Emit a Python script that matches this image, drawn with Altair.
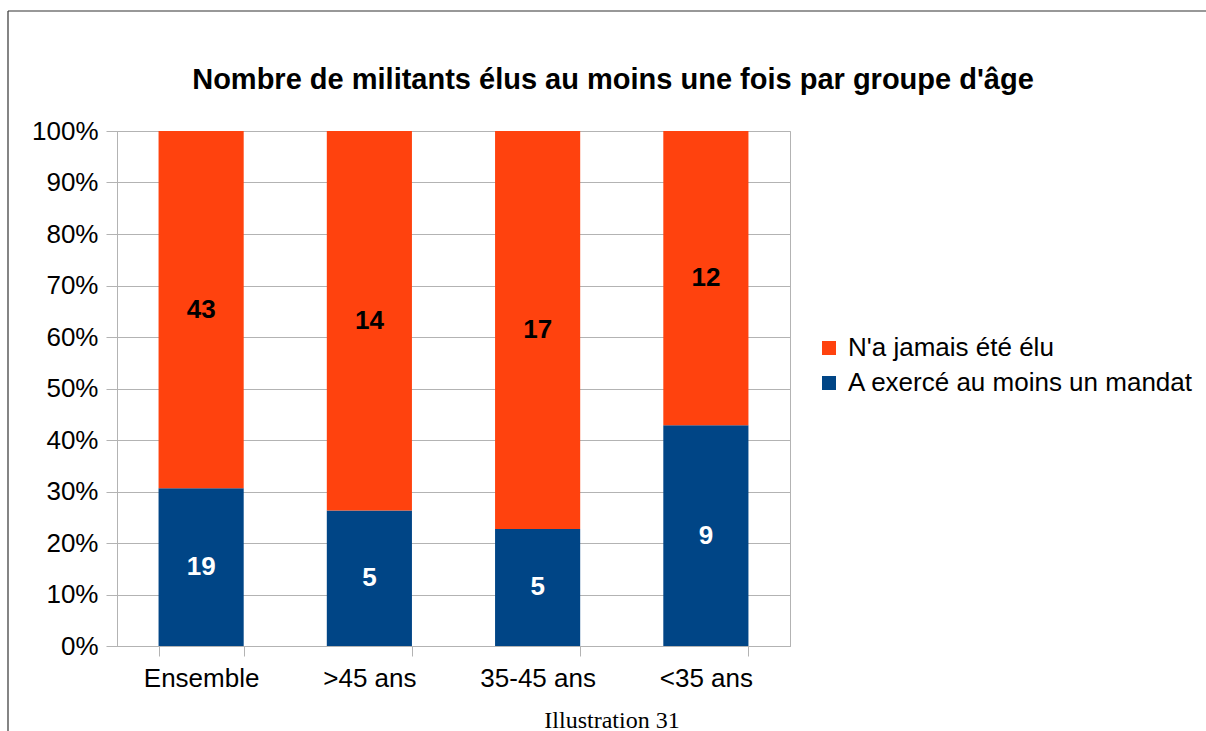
import altair as alt
import pandas as pd

# Counts of members per age group
groups = ["Ensemble", ">45 ans", "35-45 ans", "<35 ans"]
elected = [19, 5, 5, 9]          # A exercé au moins un mandat
never_elected = [43, 14, 17, 12]  # N'a jamais été élu

series_never = "N'a jamais été élu"
series_elected = "A exercé au moins un mandat"

title_text = "Nombre de militants élus au moins une fois par groupe d'âge"
caption_text = "Illustration 31"

rows = []
for g, e, n in zip(groups, elected, never_elected):
    total = e + n
    rows.append({"groupe": g, "serie": series_elected, "nombre": e,
                 "debut": 0.0, "fin": e / total})
    rows.append({"groupe": g, "serie": series_never, "nombre": n,
                 "debut": e / total, "fin": 1.0})
df = pd.DataFrame(rows)
df["milieu"] = (df["debut"] + df["fin"]) / 2

FONT = "Liberation Sans"
GRID = "#b3b3b3"
W, H = 673, 515
LEFT, TOP = 117, 131
FS = 26

x_enc = alt.X(
    "groupe:N",
    sort=groups,
    scale=alt.Scale(paddingInner=0.494, paddingOuter=0.247),
    axis=alt.Axis(
        title=None, labelAngle=0, grid=False, tickBand="extent",
        tickSize=10, tickColor=GRID, domainColor=GRID,
        labelFontSize=FS, labelFont=FONT, labelColor="black", labelPadding=9,
    ),
)

y_scale = alt.Scale(domain=[0, 1], nice=False)

base = alt.Chart(df)

bars = base.mark_bar().encode(
    x=x_enc,
    y=alt.Y(
        "debut:Q",
        scale=y_scale,
        axis=alt.Axis(
            title=None, format=".0%", values=[i / 10 for i in range(11)],
            grid=True, gridColor=GRID, tickSize=11, tickColor=GRID,
            domainColor=GRID, labelFontSize=FS, labelFont=FONT,
            labelColor="black", labelPadding=8,
        ),
    ),
    y2="fin:Q",
    color=alt.Color(
        "serie:N",
        scale=alt.Scale(domain=[series_never, series_elected],
                        range=["#ff420e", "#004586"]),
        legend=alt.Legend(
            title=None, orient="none", legendX=699, legendY=204,
            symbolType="square", symbolSize=196, symbolStrokeWidth=0,
            labelFontSize=FS, labelFont=FONT, labelColor="black",
            labelOffset=6, labelLimit=0, rowPadding=9, padding=0,
        ),
    ),
)

label_never = base.transform_filter(
    alt.datum.serie == series_never
).mark_text(font=FONT, fontSize=FS, fontWeight="bold", color="black",
            baseline="middle").encode(
    x=alt.X("groupe:N", sort=groups),
    y=alt.Y("milieu:Q", scale=y_scale),
    text="nombre:Q",
)

label_elected = base.transform_filter(
    alt.datum.serie == series_elected
).mark_text(font=FONT, fontSize=FS, fontWeight="bold", color="white",
            baseline="middle").encode(
    x=alt.X("groupe:N", sort=groups),
    y=alt.Y("milieu:Q", scale=y_scale),
    text="nombre:Q",
)

one = pd.DataFrame({"k": [0]})

# Outer frame around the figure (top and left edges)
frame_top = alt.Chart(one).mark_rule(color="#333333", strokeWidth=1.2).encode(
    x=alt.value(8 - LEFT), x2=alt.value(1206 - LEFT + 5), y=alt.value(11 - TOP)
)
frame_left = alt.Chart(one).mark_rule(color="#333333", strokeWidth=1.2).encode(
    x=alt.value(8 - LEFT), y=alt.value(11 - TOP), y2=alt.value(731 - TOP + 5)
)

# Chart heading, centred on the whole figure
heading = alt.Chart(one).mark_text(
    font=FONT, fontSize=29, fontWeight="bold", color="black",
    align="center", baseline="alphabetic",
).encode(
    x=alt.value(613 - LEFT), y=alt.value(89 - TOP),
    text=alt.value(title_text),
)

caption = alt.Chart(one).mark_text(
    font="Liberation Serif", fontSize=24, color="black",
    align="center", baseline="alphabetic",
).encode(
    x=alt.value(612 - LEFT), y=alt.value(728 - TOP),
    text=alt.value(caption_text),
)

chart = alt.layer(
    bars, label_never, label_elected, frame_top, frame_left, heading, caption
).properties(
    width=W, height=H,
    autosize=alt.AutoSizeParams(type="none"),
    padding={"left": LEFT, "top": TOP, "right": 1206 - LEFT - W,
             "bottom": 731 - TOP - H},
    background="white",
).configure_view(stroke=GRID)

chart.save("out.html", embed_options={"renderer": "svg", "actions": False})
